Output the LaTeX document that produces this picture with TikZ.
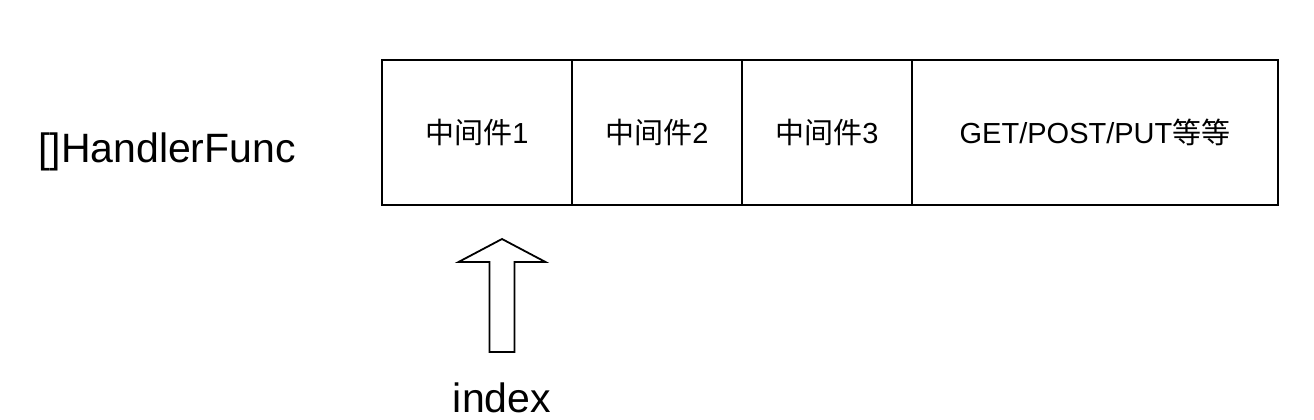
\documentclass[tikz,border=0pt]{standalone}
\usepackage{fontspec}
\setmainfont{Liberation Sans}
\newfontfamily\cjk{Noto Sans CJK SC}
\usetikzlibrary{positioning}

\begin{document}
\begin{tikzpicture}[x=1pt,y=-1pt,
  cell/.style={draw, line width=1.8pt, outer sep=0pt, inner sep=0pt,
    minimum height=145pt, font=\fontsize{29}{34}\selectfont},
  bigtext/.style={inner sep=0pt, font=\fontsize{41}{48}\selectfont}]
\useasboundingbox (0,0) rectangle (1314,420);

\node[bigtext, anchor=base] (H-name) at (167,162) {[]HandlerFunc};

\node[cell, minimum width=190pt, anchor=north west] (H-1) at (382,60) {\raisebox{-2pt}{{\cjk 中间件}1}};
\node[cell, minimum width=170pt, right=0pt of H-1] (H-2) {\raisebox{-2pt}{{\cjk 中间件}2}};
\node[cell, minimum width=170pt, right=0pt of H-2] (H-3) {\raisebox{-2pt}{{\cjk 中间件}3}};
\node[cell, minimum width=366pt, right=0pt of H-3] (H-4) {\raisebox{-2pt}{GET/POST/PUT{\cjk 等等}}};

\node[bigtext, anchor=base] (idx) at (502,412) {index};

\coordinate (tip) at (502,239);
\draw[line width=1.8pt]
(tip) -- ++(43.5,23) -- ++(-31,0) -- ++(0,90)
-- ++(-25,0) -- ++(0,-90) -- ++(-31,0) -- cycle;

\end{tikzpicture}
\end{document}
